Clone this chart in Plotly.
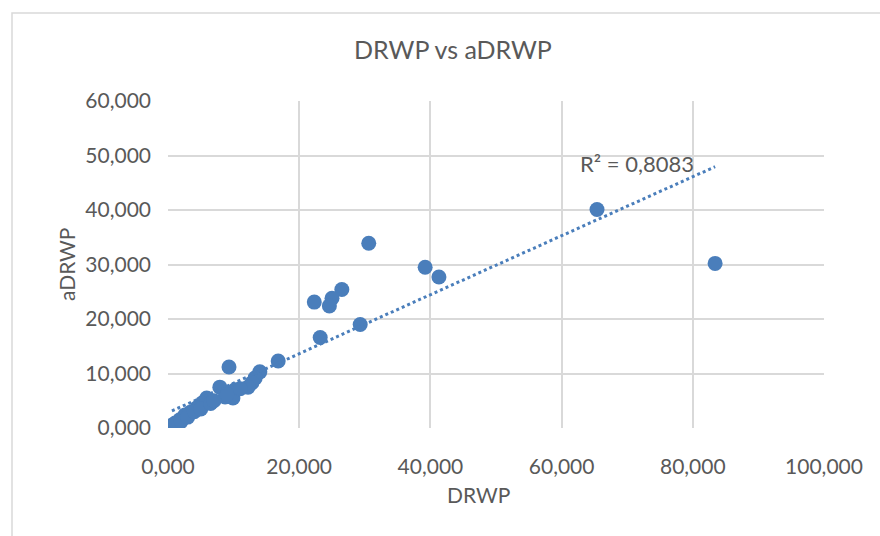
import numpy as np
import plotly.graph_objects as go

# DRWP (x) and aDRWP (y) values
drwp = [83.4, 65.4, 39.2, 41.3, 30.6, 26.5, 25.0, 24.6, 22.3, 23.2, 29.3, 16.8,
        9.3, 14.0, 13.3, 12.8, 12.2, 10.2, 9.9, 7.9, 8.7, 5.9, 5.2, 4.4, 3.4,
        2.6, 1.8, 1.1, 1.0, 0.6, 2.0, 3.0, 4.0, 5.0, 6.5, 7.0, 9.0, 11.0]
adrwp = [30.2, 40.1, 29.5, 27.7, 33.9, 25.4, 23.8, 22.4, 23.1, 16.6, 19.0, 12.3,
         11.2, 10.3, 9.2, 8.3, 7.5, 7.0, 5.5, 7.5, 5.7, 5.5, 4.6, 3.7, 2.9,
         2.4, 1.5, 0.9, 0.4, 0.5, 1.2, 2.0, 3.0, 3.5, 4.5, 5.0, 6.2, 7.2]
r2_label = "R² = 0,8083"
x_ticks = [0, 20, 40, 60, 80, 100]
y_ticks = [0, 10, 20, 30, 40, 50, 60]

blue = "#4a7ebb"
gray_text = "#595959"
grid = "#d9d9d9"
font_family = "Lato, Open Sans, sans-serif"

slope, intercept = np.polyfit(drwp, adrwp, 1)
xs = np.array([min(drwp), max(drwp)])
ys = slope * xs + intercept

fig = go.Figure()
fig.add_trace(go.Scatter(x=drwp, y=adrwp, mode="markers",
                         marker=dict(size=15, color=blue, line=dict(width=0)),
                         showlegend=False, hoverinfo="x+y"))
fig.add_trace(go.Scatter(x=xs, y=ys, mode="lines",
                         line=dict(color=blue, width=3, dash="dot"),
                         showlegend=False, hoverinfo="skip"))

L, R, T, B = 168, 56, 101, 108
W, H = 880, 536
pw, ph = W - L - R, H - T - B

def px_x(px):
    return (px - L) / pw

def px_y(py):
    return (H - B - py) / ph

fig.add_shape(type="rect", xref="paper", yref="paper",
              x0=px_x(12), x1=px_x(W + 20),
              y0=px_y(H + 20), y1=px_y(13),
              line=dict(color=grid, width=1.5), fillcolor="rgba(0,0,0,0)", layer="below")

fig.add_annotation(x=px_x(637), y=px_y(163), xref="paper", yref="paper",
                   xanchor="center", yanchor="middle",
                   text=r2_label, showarrow=False,
                   font=dict(size=22, color=gray_text, family=font_family))

# axis titles
fig.add_annotation(x=px_x(66), y=px_y(265), xref="paper", yref="paper",
                   xanchor="center", yanchor="middle",
                   text="aDRWP", textangle=-90, showarrow=False,
                   font=dict(size=21, color=gray_text, family=font_family))
fig.add_annotation(x=px_x(478), y=px_y(494), xref="paper", yref="paper",
                   xanchor="center", yanchor="middle",
                   text="DRWP", showarrow=False,
                   font=dict(size=21, color=gray_text, family=font_family))

fig.update_layout(
    width=W, height=H,
    margin=dict(l=L, r=R, t=T, b=B),
    paper_bgcolor="white", plot_bgcolor="white",
    separators=",.",
    font=dict(family=font_family, color=gray_text, size=21),
    title=dict(text="DRWP vs aDRWP", x=453 / W, xanchor="center",
               y=1 - 50 / H, yanchor="middle",
               font=dict(size=25, color=gray_text, family=font_family)),
    xaxis=dict(range=[0, 100], tickvals=x_ticks, tickformat=".3f",
               showgrid=True, gridcolor=grid, gridwidth=1.5,
               zeroline=False, showline=False, ticks="",
               ticklabelstandoff=24,
               tickfont=dict(size=21, color=gray_text)),
    yaxis=dict(range=[0, 60], tickvals=y_ticks, tickformat=".3f",
               showgrid=True, gridcolor=grid, gridwidth=1.5,
               zeroline=False, showline=False, ticks="",
               ticklabelstandoff=16,
               tickfont=dict(size=21, color=gray_text)),
)

fig.write_html("out.html")
